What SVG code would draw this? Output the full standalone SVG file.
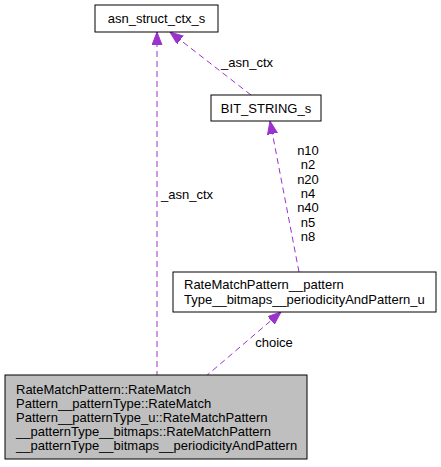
<svg xmlns="http://www.w3.org/2000/svg" width="441" height="467" viewBox="0 0 441 467">
<defs>
<style>
.node rect{stroke:#000;stroke-width:1;fill:#fff}
.node.main rect{fill:#bfbfbf}
text{font-family:"Liberation Sans",Arial,sans-serif;font-size:13px;fill:#000}
.edge{stroke:#9a32cd;stroke-width:1;stroke-dasharray:6,4;fill:none}
.lbl{text-anchor:middle}
</style>
<marker id="ah" markerWidth="14" markerHeight="11" refX="13" refY="5" orient="auto" markerUnits="userSpaceOnUse">
<path d="M0,0 L13,5 L0,10 z" fill="#9a32cd" stroke="#9a32cd"/>
</marker>
</defs>
<rect width="441" height="467" fill="#fff"/>
<g id="connectors">
<path class="edge" d="M157,377 L157,32" marker-end="url(#ah)"/>
<path class="edge" d="M251,95 L170,32" marker-end="url(#ah)"/>
<path class="edge" d="M299,272 L270,121" marker-end="url(#ah)"/>
<path class="edge" d="M205,377 L281,312" marker-end="url(#ah)"/>
<text class="lbl" x="187" y="199">_asn_ctx</text>
<text class="lbl" x="247" y="67">_asn_ctx</text>
<text class="lbl" x="308" y="155">n10</text>
<text class="lbl" x="308" y="169">n2</text>
<text class="lbl" x="308" y="184">n20</text>
<text class="lbl" x="308" y="198">n4</text>
<text class="lbl" x="308" y="212">n40</text>
<text class="lbl" x="308" y="227">n5</text>
<text class="lbl" x="308" y="241">n8</text>
<text class="lbl" x="274" y="347">choice</text>
</g>
<g id="asn_struct_ctx_s" class="node">
<rect x="95" y="5" width="123" height="27"/>
<text class="lbl" x="156.5" y="23">asn_struct_ctx_s</text>
</g>
<g id="BIT_STRING_s" class="node">
<rect x="211" y="95" width="110" height="26"/>
<text class="lbl" x="266" y="113">BIT_STRING_s</text>
</g>
<g id="periodicity_u" class="node">
<rect x="173" y="272" width="263" height="40"/>
<text x="184" y="289">RateMatchPattern__pattern</text>
<text x="184" y="304">Type__bitmaps__periodicityAndPattern_u</text>
</g>
<g id="main" class="node main">
<rect x="5" y="375" width="302" height="84"/>
<text x="16" y="394">RateMatchPattern::RateMatch</text>
<text x="16" y="408">Pattern__patternType::RateMatch</text>
<text x="16" y="422">Pattern__patternType_u::RateMatchPattern</text>
<text x="16" y="436">__patternType__bitmaps::RateMatchPattern</text>
<text x="16" y="450">__patternType__bitmaps__periodicityAndPattern</text>
</g>
</svg>
